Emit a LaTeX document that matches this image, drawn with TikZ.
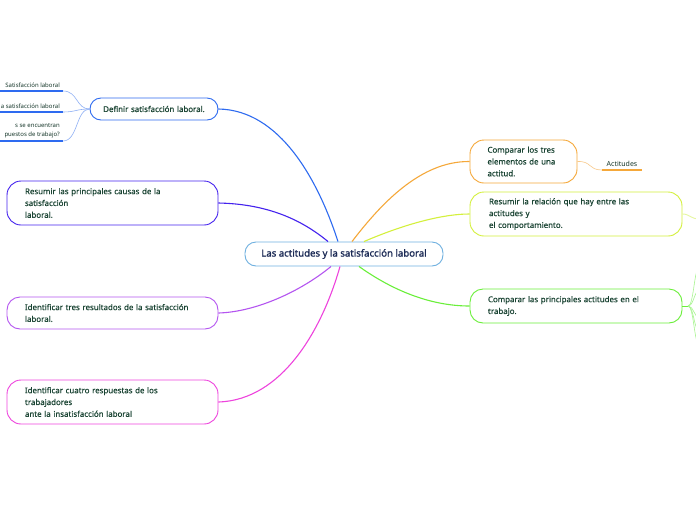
\documentclass[tikz,border=0pt]{standalone}
\usepackage{fontspec}
\setmainfont{Noto Sans}
\newfontfamily\boxfont{Noto Sans}[FakeBold=0.5]
\newfontfamily\centfont{Noto Sans}[FakeBold=1.4]
\definecolor{txt}{HTML}{1A4433}
\definecolor{ctxt}{HTML}{1B2A55}
\definecolor{cblue}{HTML}{6FB0E0}
\definecolor{bblue}{HTML}{2E6BF0}
\definecolor{lblue}{HTML}{8FB0F5}
\definecolor{bindigo}{HTML}{4422EE}
\definecolor{bpurple}{HTML}{B455F0}
\definecolor{bmagenta}{HTML}{EE44DD}
\definecolor{borange}{HTML}{F5A83A}
\definecolor{lorange}{HTML}{F8C98A}
\definecolor{byellow}{HTML}{D4F03C}
\definecolor{lyellow}{HTML}{E6F7A0}
\definecolor{bgreen}{HTML}{6AEF3A}
\definecolor{lgreen}{HTML}{A8F590}
\tikzset{
  mbox/.style={draw=#1, line width=0.9pt, rounded corners=11pt, fill=white, text=txt,
    font=\boxfont\fontsize{7.9}{11.8}\selectfont, align=left, inner ysep=0pt},
  conn/.style={draw=#1, line width=1.1pt},
  sublbl/.style={text=txt!80!black, font=\fontsize{6}{8.5}\selectfont, inner sep=1pt},
  subline/.style={draw=#1, line width=1.6pt},
  subconn/.style={draw=#1, line width=0.6pt},
}
\begin{document}
\begin{tikzpicture}[x=1pt,y=-1pt]
\useasboundingbox (0,0) rectangle (696,520);
\clip (0,0) rectangle (696,520);
\fill[white] (0,0) rectangle (696,520);

% central node
\node[draw=cblue, line width=0.9pt, rounded corners=11pt, fill=white, text=ctxt,
  font=\centfont\fontsize{9.6}{11}\selectfont, minimum width=198pt, minimum height=24pt,
  inner sep=0pt] (C) at (344,254) {Las actitudes y la satisfacción laboral};

% left boxes
\node[mbox=bblue, text width=112pt, inner xsep=8pt, minimum height=22pt, align=center] (B1) at (154,109) {Definir satisfacción laboral.};
\node[mbox=bindigo, rounded corners=14pt, text width=175pt, inner xsep=18pt, minimum height=44pt] (B2) at (112.5,203) {Resumir las principales causas de la\\satisfacción\\laboral.};
\node[mbox=bpurple, rounded corners=13pt, text width=175pt, inner xsep=18pt, minimum height=32pt] (B3) at (112.5,313) {Identificar tres resultados de la satisfacción\\laboral.};
\node[mbox=bmagenta, rounded corners=14pt, text width=175pt, inner xsep=18pt, minimum height=44pt] (B4) at (112.5,402) {Identificar cuatro respuestas de los\\trabajadores\\ante la insatisfacción laboral};

% right boxes
\node[mbox=borange, rounded corners=14pt, text width=72pt, inner xsep=17.5pt, minimum height=43pt] (R1) at (523.5,161.5) {Comparar los tres\\elementos de una\\actitud.};
\node[mbox=byellow, rounded corners=14pt, text width=174pt, inner xsep=19pt, minimum height=44pt] (R2) at (576,214) {Resumir la relación que hay entre las\\actitudes y\\el comportamiento.};
\node[mbox=bgreen, rounded corners=13pt, text width=176pt, inner xsep=18pt, minimum height=34pt] (R3) at (576,306) {Comparar las principales actitudes en el\\trabajo.};

% main connectors
\draw[conn=bblue] (B1.east) .. controls (280,110) and (318,180) .. ([xshift=-6pt]C.north);
\draw[conn=bindigo] (B2.east) .. controls (268,204) and (302,220) .. ([xshift=-16pt]C.north);
\draw[conn=bpurple] (B3.east) .. controls (255,312) and (300,292) .. ([xshift=-13pt]C.south);
\draw[conn=bmagenta] (B4.east) .. controls (282,400) and (322,330) .. ([xshift=-4pt]C.south);
\draw[conn=borange] ([xshift=8pt]C.north) .. controls (380,205) and (420,161) .. (R1.west);
\draw[conn=byellow] ([xshift=20pt]C.north) .. controls (400,226) and (440,214) .. (R2.west);
\draw[conn=bgreen] ([xshift=15pt]C.south) .. controls (392,290) and (430,306) .. (R3.west);

% Actitudes
\node[sublbl, font=\fontsize{7}{9}\selectfont, anchor=south] (A1) at (622,168) {Actitudes};
\coordinate (A1l) at (602,170);
\coordinate (A1r) at (642,170);
\draw[subline=borange] (A1l) -- (A1r);
\draw[subconn=lorange] (R1.east) .. controls (592,161) and (588,170) .. (A1l);

% yellow off-page child
\coordinate (Y1) at (700,219);
\draw[subconn=lyellow, line width=0.9pt] (R2.east) .. controls (690,214) and (690,219) .. (Y1);

% green off-page children
\coordinate (G0) at (688,306);
\draw[subconn=bgreen, line width=1pt] (R3.east) -- (G0);
\foreach \yy [count=\i] in {266,290,318,332,346} {
  \coordinate (G\i) at (700,\yy);
  \draw[subconn=lgreen] (G0) .. controls (694,306) and (694,\yy) .. (G\i);
}

% left children of B1
\node[sublbl, anchor=south east] (S1) at (61,89) {Satisfacción laboral};
\coordinate (S1l) at (-5,91); \coordinate (S1r) at (63,91);
\draw[subline=bblue] (S1l) -- (S1r);
\node[sublbl, anchor=south east] (S2) at (61,110) {a satisfacción laboral};
\coordinate (S2l) at (-5,112); \coordinate (S2r) at (63,112);
\draw[subline=bblue] (S2l) -- (S2r);
\node[sublbl, anchor=south east, align=right] (S3) at (61,139) {s se encuentran\\puestos de trabajo?};
\coordinate (S3l) at (-5,141); \coordinate (S3r) at (63,141);
\draw[subline=bblue] (S3l) -- (S3r);
\draw[subconn=lblue] (B1.west) .. controls (76,109) and (78,91) .. (S1r);
\draw[subconn=lblue] (B1.west) .. controls (76,109) and (76,112) .. (S2r);
\draw[subconn=lblue] (B1.west) .. controls (76,109) and (78,141) .. (S3r);
\end{tikzpicture}
\end{document}
